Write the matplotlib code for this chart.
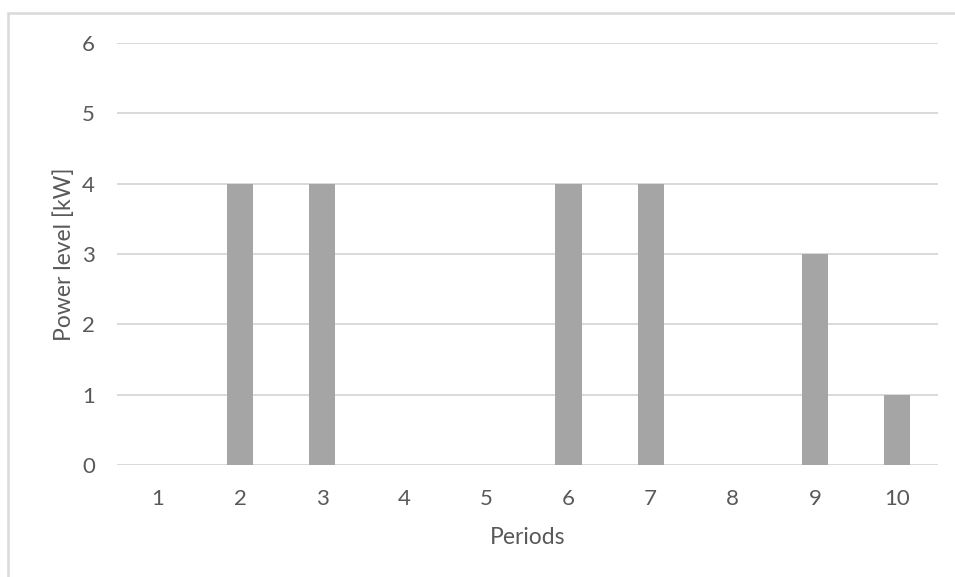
import matplotlib
matplotlib.use("Agg")
import matplotlib.pyplot as plt
from matplotlib.patches import Rectangle

periods = [1, 2, 3, 4, 5, 6, 7, 8, 9, 10]
power_kw = [0, 4, 4, 0, 0, 4, 4, 0, 3, 1]
y_ticks = [0, 1, 2, 3, 4, 5, 6]

plt.rcParams["font.family"] = ["Lato", "DejaVu Sans"]
text_color = "#595959"
grid_color = "#D9D9D9"

W, H = 955, 577
fig = plt.figure(figsize=(W / 100, H / 100), dpi=100)
ax = fig.add_axes([117 / W, 1 - 465 / H, (938 - 117) / W, (465 - 43) / H])

# chart border (cropped at right and bottom, as in the reference)
fig.patches.append(Rectangle((8 / W, -0.1), 1.2, 1 - 13 / H + 0.1,
                             transform=fig.transFigure, fill=False,
                             edgecolor=grid_color, lw=1.8, zorder=0))

x = list(range(len(periods)))
ax.bar(x, power_kw, width=0.32, color="#A5A5A5", zorder=3)

ax.set_xlim(-0.5, len(periods) - 0.5)
ax.set_ylim(0, 6)
ax.set_yticks(y_ticks)
ax.set_xticks(x)
ax.set_xticklabels([str(p) for p in periods])
ax.yaxis.grid(True, color=grid_color, lw=1.4, zorder=0)
ax.set_axisbelow(True)
for s in ax.spines.values():
    s.set_visible(False)
ax.tick_params(axis="both", length=0, colors=text_color, labelsize=16)
ax.tick_params(axis="y", pad=16)
ax.tick_params(axis="x", pad=17)
ax.set_xlabel("Periods", fontsize=16.5, color=text_color, labelpad=13)
ax.set_ylabel("Power level [kW]", fontsize=16.5, color=text_color, labelpad=5)

fig.savefig("out.png", dpi=100)
